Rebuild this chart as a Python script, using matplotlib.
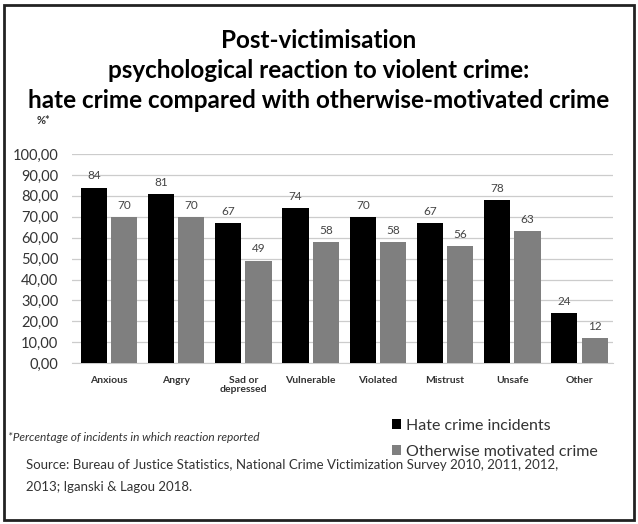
import matplotlib
matplotlib.use("Agg")
import matplotlib.pyplot as plt
import numpy as np
from matplotlib.patches import Rectangle

plt.rcParams['font.family'] = ['Lato', 'DejaVu Sans']

categories = ["Anxious", "Angry", "Sad or\ndepressed", "Vulnerable", "Violated", "Mistrust", "Unsafe", "Other"]
hate = [84, 81, 67, 74, 70, 67, 78, 24]
other = [70, 70, 49, 58, 58, 56, 63, 12]
yticks = [0, 10, 20, 30, 40, 50, 60, 70, 80, 90, 100]
ytick_labels = ["0,00", "10,00", "20,00", "30,00", "40,00", "50,00", "60,00", "70,00", "80,00", "90,00", "100,00"]

fig = plt.figure(figsize=(6.38, 5.24), dpi=100)
fig.patch.set_facecolor("white")

# frame
fig.add_artist(Rectangle((0.006, 0.008), 0.988, 0.982, transform=fig.transFigure,
                         fill=False, edgecolor="#222222", linewidth=2))

ax = fig.add_axes([0.113, 0.307, 0.848, 0.399])
x = np.arange(len(categories))
w = 0.39
off = 0.225
b1 = ax.bar(x - off, hate, width=w, color="black", label="Hate crime incidents", zorder=3)
b2 = ax.bar(x + off, other, width=w, color="#7f7f7f", label="Otherwise motivated crime", zorder=3)
for xi, v in zip(x - off, hate):
    ax.text(xi, v + 3, str(v), ha="center", va="bottom", fontsize=8.5, color="#444444")
for xi, v in zip(x + off, other):
    ax.text(xi, v + 3, str(v), ha="center", va="bottom", fontsize=8.5, color="#444444")

ax.set_ylim(0, 100)
ax.set_xlim(-0.55, 7.5)
ax.set_yticks(yticks)
ax.set_yticklabels(ytick_labels, fontsize=10.5, color="#333333")
ax.yaxis.grid(True, color="#cccccc", linewidth=0.9, zorder=0)
ax.set_xticks(x)
ax.set_xticklabels(categories, fontsize=7.5, fontweight="bold", color="#333333", linespacing=1.1)
ax.tick_params(axis="both", length=0)
ax.tick_params(axis="y", pad=10)
ax.tick_params(axis="x", pad=9)
for s in ["top", "right", "left"]:
    ax.spines[s].set_visible(False)
ax.spines["bottom"].set_color("#cccccc")

fig.text(0.5, 0.923, "Post-victimisation", ha="center", va="center", fontsize=17.5, fontweight="bold")
fig.text(0.5, 0.866, "psychological reaction to violent crime:", ha="center", va="center", fontsize=17.5, fontweight="bold")
fig.text(0.5, 0.809, "hate crime compared with otherwise-motivated crime", ha="center", va="center", fontsize=17.5, fontweight="bold")
fig.text(0.058, 0.770, "%*", ha="left", va="center", fontsize=8, fontweight="bold", color="#333333")

leg = fig.legend(handles=[b1, b2], loc="center left", bbox_to_anchor=(0.592, 0.163),
                 frameon=False, fontsize=11.5, handlelength=0.55, handleheight=0.55, handletextpad=0.3,
                 labelspacing=0.75, labelcolor="#333333")

fig.text(0.012, 0.165, "*Percentage of incidents in which reaction reported", fontsize=8.6, style="italic",
         color="#333333", ha="left", va="center")
fig.text(0.040, 0.112, "Source: Bureau of Justice Statistics, National Crime Victimization Survey 2010, 2011, 2012,",
         fontsize=9.5, color="#333333", ha="left", va="center")
fig.text(0.040, 0.070, "2013; Iganski & Lagou 2018.", fontsize=9.5, color="#333333", ha="left", va="center")

fig.savefig("out.png", dpi=100, facecolor="white")
